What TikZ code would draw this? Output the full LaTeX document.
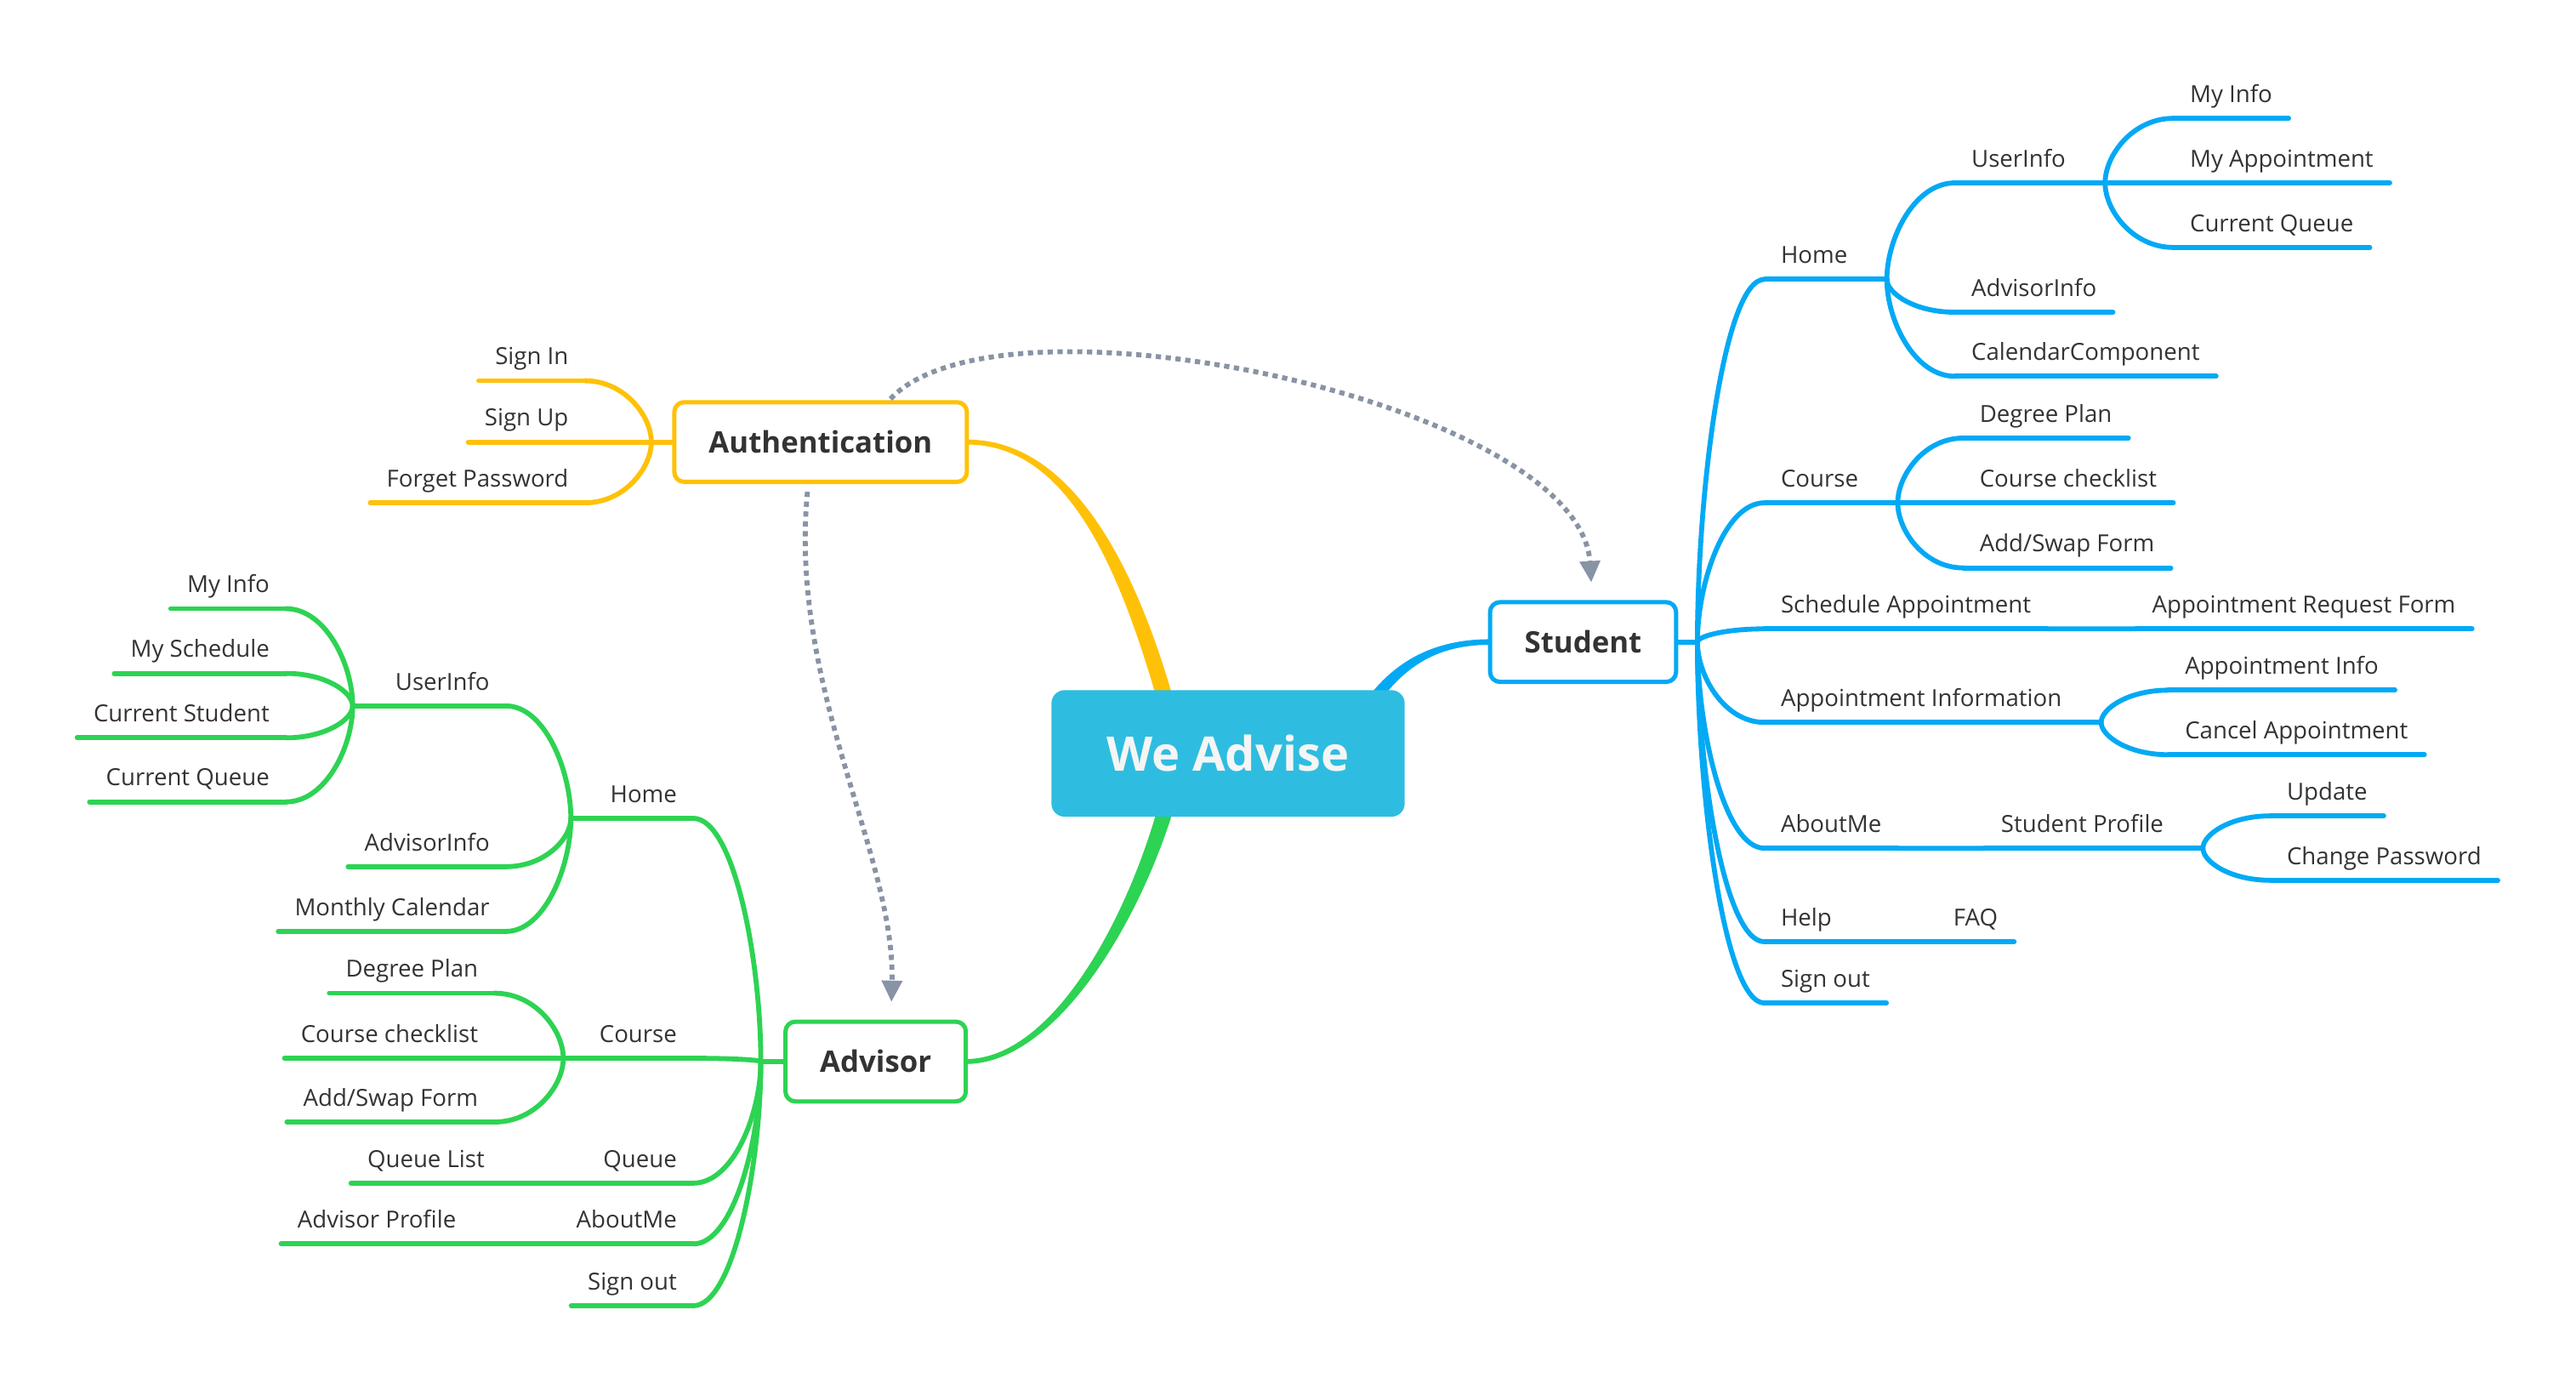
\documentclass[tikz,border=0pt]{standalone}
\usepackage{fontspec}
\setmainfont{Open Sans}
\usetikzlibrary{calc,arrows.meta}
\definecolor{ink}{HTML}{333333}
\definecolor{rootc}{HTML}{2EBDE0}
\definecolor{authc}{HTML}{FFC107}
\definecolor{studc}{HTML}{03A9F4}
\definecolor{advc}{HTML}{2DD353}
\definecolor{relc}{HTML}{8893A5}
\pgfdeclarelayer{back}
\pgfsetlayers{back,main}
\tikzset{
  topic/.style={font=\fontsize{14.3}{17}\selectfont, text=ink, inner xsep=10pt, inner ysep=0pt,
    outer sep=0pt, text height=10.5pt, text depth=9.7pt},
  rt/.style={topic, anchor=south west},
  lt/.style={topic, anchor=south east},
  topbox/.style={draw=#1, fill=white, line width=2.6pt, rounded corners=6pt, minimum height=48.5pt,
    inner xsep=21pt, outer sep=0pt, text=ink, font=\bfseries\fontsize{18}{21}\selectfont},
  wire/.style={draw=#1, line width=3pt, line cap=round},
  curvy/.style={to path={.. controls ($(\tikztostart)!0.42!(\tikztostart|-\tikztotarget)$)
    and ($(\tikztostart|-\tikztotarget)!0.4!(\tikztotarget)$) .. (\tikztotarget)}},
  rel/.style={draw=relc, line width=3pt, dash pattern=on 3.2pt off 2.8pt,
    -{Triangle[length=13pt,width=12pt]}}
}
\begin{document}
\begin{tikzpicture}[x=1pt,y=-1pt]
\useasboundingbox (0,0) rectangle (1568,842);
\node[fill=rootc, rounded corners=8pt, minimum width=215pt, minimum height=77pt, outer sep=0pt,
  text=white!96!black, font=\bfseries\fontsize{29}{34}\selectfont] (root) at (747.5,458.5) {We Advise};
\node[topbox=authc] (auth) at (499.5,269) {Authentication};
\node[topbox=studc] (stud) at (963.6,390.7) {Student};
\node[topbox=advc] (adv) at (533,646) {Advisor};

% Authentication
\coordinate (ahub) at ($(auth.west)+(-14,0)$);
\node[lt] (aSignIn) at (356,231.7) {Sign In};
\node[lt] (aSignUp) at (356,269) {Sign Up};
\node[lt] (aForget) at (356,306) {Forget Password};

% Advisor
\coordinate (vhub) at ($(adv.west)+(-15,0)$);
\node[lt] (vHome) at (422,498) {Home};
\node[lt] (vCourse) at (422,644) {Course};
\node[lt] (vQueue) at (422,720) {Queue};
\node[lt] (vAbout) at (422,757) {AboutMe};
\node[lt] (vSignOut) at (422,794.6) {Sign out};
\coordinate (vHomeHub) at ($(vHome.south west)+(-14,0)$);
\node[lt] (vUserInfo) at (308,429.6) {UserInfo};
\node[lt] (vAdvInfo) at (308,527.4) {AdvisorInfo};
\node[lt] (vMonthly) at (308,566.8) {Monthly Calendar};
\coordinate (vUserHub) at ($(vUserInfo.south west)+(-16,0)$);
\node[lt] (vMyInfo) at (174,370.4) {My Info};
\node[lt] (vMySched) at (174,409.8) {My Schedule};
\node[lt] (vCurStud) at (174,449) {Current Student};
\node[lt] (vCurQueue) at (174,488) {Current Queue};
\coordinate (vCourseHub) at ($(vCourse.south west)+(-12,0)$);
\node[lt] (vDegree) at (301,604.4) {Degree Plan};
\node[lt] (vCheck) at (301,644) {Course checklist};
\node[lt] (vAddSwap) at (301,682.8) {Add/Swap Form};
\coordinate (vQueueHub) at ($(vQueue.south west)+(-14,0)$);
\node[lt] (vQList) at (305,720) {Queue List};
\coordinate (vAboutHub) at ($(vAbout.south west)+(-14,0)$);
\node[lt] (vProfile) at (287.6,757) {Advisor Profile};

% Student
\coordinate (shub) at ($(stud.east)+(13,0)$);
\node[rt] (sHome) at (1074,170) {Home};
\node[rt] (sCourse) at (1074,306) {Course};
\node[rt] (sSched) at (1074,382.7) {Schedule Appointment};
\node[rt] (sAppt) at (1074,439.6) {Appointment Information};
\node[rt] (sAbout) at (1074,516.2) {AboutMe};
\node[rt] (sHelp) at (1074,573.1) {Help};
\node[rt] (sSignOut) at (1074,610.4) {Sign out};
\coordinate (sHomeHub) at ($(sHome.south east)+(14,0)$);
\node[rt] (sUserInfo) at (1190,111.3) {UserInfo};
\node[rt] (sAdvInfo) at (1190,190) {AdvisorInfo};
\node[rt] (sCal) at (1190,229) {CalendarComponent};
\coordinate (sUserHub) at ($(sUserInfo.south east)+(14,0)$);
\node[rt] (sMyInfo) at (1323,72) {My Info};
\node[rt] (sMyAppt) at (1323,111.3) {My Appointment};
\node[rt] (sCurQueue) at (1323,150.6) {Current Queue};
\coordinate (sCourseHub) at ($(sCourse.south east)+(14,0)$);
\node[rt] (sDegree) at (1195,266.6) {Degree Plan};
\node[rt] (sCheck) at (1195,306) {Course checklist};
\node[rt] (sAddSwap) at (1195,345.6) {Add/Swap Form};
\coordinate (sSchedHub) at ($(sSched.south east)+(14,0)$);
\node[rt] (sReqForm) at (1300,382.7) {Appointment Request Form};
\coordinate (sApptHub) at ($(sAppt.south east)+(14,0)$);
\node[rt] (sApptInfo) at (1320,420) {Appointment Info};
\node[rt] (sCancel) at (1320,459.3) {Cancel Appointment};
\coordinate (sAboutHub) at ($(sAbout.south east)+(14,0)$);
\node[rt] (sProfile) at (1208,516.2) {Student Profile};
\coordinate (sProfileHub) at ($(sProfile.south east)+(14,0)$);
\node[rt] (sUpdate) at (1382,496.5) {Update};
\node[rt] (sChangePw) at (1382,535.7) {Change Password};
\coordinate (sHelpHub) at ($(sHelp.south east)+(14,0)$);
\node[rt] (sFAQ) at (1179,573.1) {FAQ};

\begin{pgfonlayer}{back}
% main branches
\fill[authc] ($(auth.east)+(0,-1.5)$) .. controls +(62,0) and +(-25,-90) .. ($(root.north)+(-32,10)$)
  -- ($(root.north)+(-42,10)$) .. controls +(-25,-88) and +(60,0) .. ($(auth.east)+(0,1.5)$) -- cycle;
\fill[advc] ($(adv.east)+(0,1.5)$) .. controls +(55,0) and +(-21,73) .. ($(root.south)+(-31.5,-10)$)
  -- ($(root.south)+(-41.5,-10)$) .. controls +(-20,74) and +(52,0) .. ($(adv.east)+(0,-1.5)$) -- cycle;
\fill[studc] ($(stud.west)+(0,-1.7)$) .. controls +(-35,0) and +(17,-23) .. ($(root.north east)+(-23.5,6)$)
  -- ($(root.north east)+(-17.5,10)$) .. controls +(17,-24) and +(-33,0) .. ($(stud.west)+(0,1.7)$) -- cycle;

% yellow
\draw[wire=authc] (auth) -- (ahub);
\foreach \n in {aSignIn,aSignUp,aForget} {
  \draw[wire=authc] (\n.south west) -- (\n.south east);
  \draw[wire=authc] (ahub) to[curvy] (\n.south east);
}

% green
\draw[wire=advc] (adv) -- (vhub);
\foreach \n in {vHome,vCourse,vQueue,vAbout,vSignOut,vUserInfo,vAdvInfo,vMonthly,vMyInfo,vMySched,
  vCurStud,vCurQueue,vDegree,vCheck,vAddSwap,vQList,vProfile}
  \draw[wire=advc] (\n.south west) -- (\n.south east);
\foreach \n in {vHome,vCourse,vQueue,vAbout,vSignOut}
  \draw[wire=advc] (vhub) to[curvy] (\n.south east);
\draw[wire=advc] (vHome.south west) -- (vHomeHub);
\foreach \n in {vUserInfo,vAdvInfo,vMonthly}
  \draw[wire=advc] (vHomeHub) to[curvy] (\n.south east);
\draw[wire=advc] (vUserInfo.south west) -- (vUserHub);
\foreach \n in {vMyInfo,vMySched,vCurStud,vCurQueue}
  \draw[wire=advc] (vUserHub) to[curvy] (\n.south east);
\draw[wire=advc] (vCourse.south west) -- (vCourseHub);
\foreach \n in {vDegree,vCheck,vAddSwap}
  \draw[wire=advc] (vCourseHub) to[curvy] (\n.south east);
\draw[wire=advc] (vQueue.south west) -- (vQueueHub) to[curvy] (vQList.south east);
\draw[wire=advc] (vAbout.south west) -- (vAboutHub) to[curvy] (vProfile.south east);

% blue
\draw[wire=studc] (stud) -- (shub);
\foreach \n in {sHome,sCourse,sSched,sAppt,sAbout,sHelp,sSignOut,sUserInfo,sAdvInfo,sCal,sMyInfo,
  sMyAppt,sCurQueue,sDegree,sCheck,sAddSwap,sReqForm,sApptInfo,sCancel,sProfile,sUpdate,sChangePw,sFAQ}
  \draw[wire=studc] (\n.south west) -- (\n.south east);
\foreach \n in {sHome,sCourse,sSched,sAppt,sAbout,sHelp,sSignOut}
  \draw[wire=studc] (shub) to[curvy] (\n.south west);
\draw[wire=studc] (sHome.south east) -- (sHomeHub);
\foreach \n in {sUserInfo,sAdvInfo,sCal}
  \draw[wire=studc] (sHomeHub) to[curvy] (\n.south west);
\draw[wire=studc] (sUserInfo.south east) -- (sUserHub);
\foreach \n in {sMyInfo,sMyAppt,sCurQueue}
  \draw[wire=studc] (sUserHub) to[curvy] (\n.south west);
\draw[wire=studc] (sCourse.south east) -- (sCourseHub);
\foreach \n in {sDegree,sCheck,sAddSwap}
  \draw[wire=studc] (sCourseHub) to[curvy] (\n.south west);
\draw[wire=studc] (sSched.south east) -- (sSchedHub) to[curvy] (sReqForm.south west);
\draw[wire=studc] (sAppt.south east) -- (sApptHub);
\foreach \n in {sApptInfo,sCancel}
  \draw[wire=studc] (sApptHub) to[curvy] (\n.south west);
\draw[wire=studc] (sAbout.south east) -- (sAboutHub) to[curvy] (sProfile.south west);
\draw[wire=studc] (sProfile.south east) -- (sProfileHub);
\foreach \n in {sUpdate,sChangePw}
  \draw[wire=studc] (sProfileHub) to[curvy] (\n.south west);
\draw[wire=studc] (sHelp.south east) -- (sHelpHub) to[curvy] (sFAQ.south west);
\end{pgfonlayer}

% relationships
\draw[rel] ($(auth.north)+(42.5,-2)$) .. controls +(68,-72) and +(-7,-109) .. ($(stud.north)+(5,-12)$);
\draw[rel] ($(auth.south)+(-8,6)$) .. controls +(-11.5,119) and +(2.4,-89) .. ($(adv.north)+(9.6,-12)$);
\end{tikzpicture}
\end{document}
